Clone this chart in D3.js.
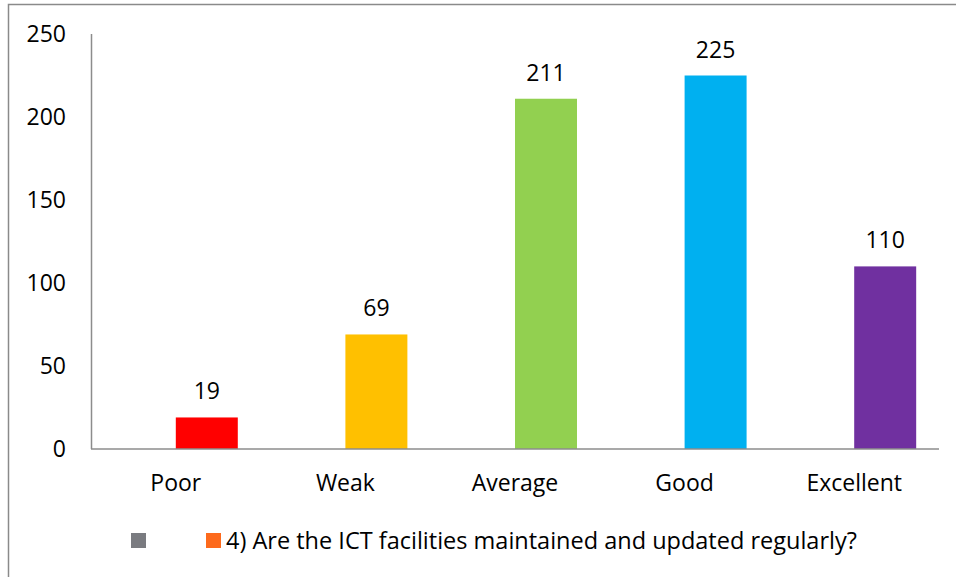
<!DOCTYPE html>
<html>
<head>
<meta charset="utf-8">
<script src="https://cdn.jsdelivr.net/npm/d3@7"></script>
<style>
  body { margin: 0; background: #fff; }
  text { font-family: "Open Sans", sans-serif; fill: #000; }
</style>
</head>
<body>
<div id="chart"></div>
<script>
// chart data
const categories = ["Poor", "Weak", "Average", "Good", "Excellent"];
const values = [19, 69, 211, 225, 110];
const barColors = ["#ff0000", "#ffc000", "#92d050", "#00b0f0", "#7030a0"];
const yTicks = [0, 50, 100, 150, 200, 250];
// first series is an empty one in the source workbook, only its legend key shows
const seriesNames = ["", "4) Are the ICT facilities maintained and updated regularly?"];
const seriesColors = ["#7a7b80", "#fd6a1c"];

const WIDTH = 956;
const HEIGHT = 577;
const MARGIN = { left: 91, right: 17, top: 34, bottom: 128 };
const FONT = 23;

const svg = d3.select("#chart").append("svg")
  .attr("width", WIDTH)
  .attr("height", HEIGHT);

// outer chart border (right and bottom are cut off in the picture)
svg.append("rect")
  .attr("x", 8.5).attr("y", 4.5)
  .attr("width", WIDTH + 20).attr("height", HEIGHT + 20)
  .attr("fill", "none")
  .attr("stroke", "#8a8a8a")
  .attr("stroke-width", 1.5);

const plotW = WIDTH - MARGIN.left - MARGIN.right;
const plotH = HEIGHT - MARGIN.top - MARGIN.bottom;

const g = svg.append("g")
  .attr("transform", `translate(${MARGIN.left}, ${MARGIN.top})`);

const x0 = d3.scaleBand().domain(categories).range([0, plotW]);
const x1 = d3.scaleBand().domain(seriesNames).range([0, x0.bandwidth()])
  .paddingInner(0).paddingOuter(0.368);
const y = d3.scaleLinear().domain([0, 250]).range([plotH, 0]);

// y axis labels
const yAxis = d3.axisLeft(y).tickValues(yTicks).tickSize(0).tickPadding(25);
g.append("g").attr("class", "y-axis").call(yAxis)
  .call(a => a.select(".domain").remove())
  .selectAll("text")
  .style("font-size", FONT + "px")
  .style("font-family", '"Open Sans", sans-serif')
  .attr("fill", "#000");

// axis lines
g.append("line")
  .attr("x1", 0.5).attr("x2", 0.5)
  .attr("y1", 0).attr("y2", plotH)
  .attr("stroke", "#8c8c8c").attr("stroke-width", 1.5);

// bars
const bars = g.selectAll(".bar")
  .data(values)
  .enter()
  .append("rect")
  .attr("class", "bar")
  .attr("x", (d, i) => x0(categories[i]) + x1(seriesNames[1]))
  .attr("width", x1.bandwidth())
  .attr("y", d => y(d))
  .attr("height", d => y(0) - y(d))
  .attr("fill", (d, i) => barColors[i]);

g.append("line")
  .attr("x1", 0).attr("x2", plotW)
  .attr("y1", plotH).attr("y2", plotH)
  .attr("stroke", "#8c8c8c").attr("stroke-width", 1.5);

// value labels
g.selectAll(".val")
  .data(values)
  .enter()
  .append("text")
  .attr("class", "val")
  .attr("x", (d, i) => x0(categories[i]) + x1(seriesNames[1]) + x1.bandwidth() / 2)
  .attr("y", d => y(d) - 18)
  .attr("text-anchor", "middle")
  .style("font-size", FONT + "px")
  .text(d => d);

// x axis labels
const xAxis = d3.axisBottom(x0).tickSize(0).tickPadding(26);
g.append("g").attr("class", "x-axis")
  .attr("transform", `translate(0, ${plotH})`)
  .call(xAxis)
  .call(a => a.select(".domain").remove())
  .selectAll("text")
  .style("font-size", FONT + "px")
  .style("font-family", '"Open Sans", sans-serif')
  .attr("fill", "#000");

// legend
const legend = svg.append("g").attr("transform", "translate(131, 533)");
legend.append("rect").attr("x", 0).attr("y", 0).attr("width", 15).attr("height", 15)
  .attr("fill", seriesColors[0]);
legend.append("rect").attr("x", 75).attr("y", 0).attr("width", 15).attr("height", 15)
  .attr("fill", seriesColors[1]);
legend.append("text")
  .attr("x", 95).attr("y", 7.5)
  .attr("dy", "0.35em")
  .style("font-size", "23.5px")
  .text(seriesNames[1]);
</script>
</body>
</html>
